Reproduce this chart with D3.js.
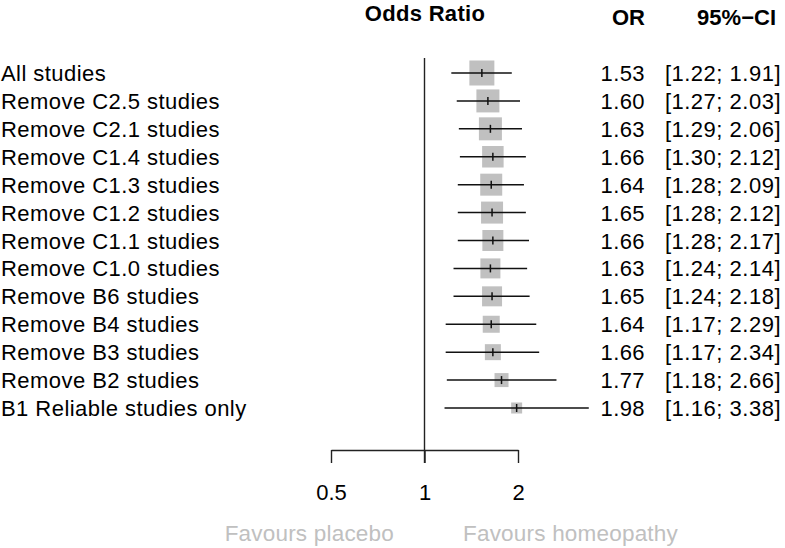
<!DOCTYPE html>
<html>
<head>
<meta charset="utf-8">
<script src="https://cdn.jsdelivr.net/npm/d3@7"></script>
<style>
  body { margin: 0; background: #fff; }
  text { font-family: "Liberation Sans", Arial, Helvetica, sans-serif; }
</style>
</head>
<body>
<div id="chart"></div>
<script>
var w = 785;
var h = 548;

// forest plot data
var studies = ["All studies", "Remove C2.5 studies", "Remove C2.1 studies", "Remove C1.4 studies",
               "Remove C1.3 studies", "Remove C1.2 studies", "Remove C1.1 studies", "Remove C1.0 studies",
               "Remove B6 studies", "Remove B4 studies", "Remove B3 studies", "Remove B2 studies",
               "B1 Reliable studies only"];
var or_vals = [1.53, 1.60, 1.63, 1.66, 1.64, 1.65, 1.66, 1.63, 1.65, 1.64, 1.66, 1.77, 1.98];
var ci_low  = [1.22, 1.27, 1.29, 1.30, 1.28, 1.28, 1.28, 1.24, 1.24, 1.17, 1.17, 1.18, 1.16];
var ci_high = [1.91, 2.03, 2.06, 2.12, 2.09, 2.12, 2.17, 2.14, 2.18, 2.29, 2.34, 2.66, 3.38];
var weights = [25, 23, 23, 21.5, 22, 22, 21, 20, 20, 17, 16, 14, 11];
var ticks = [0.5, 1, 2];

var svg = d3.select("#chart").append("svg")
            .attr("width", w)
            .attr("height", h);

var x = d3.scaleLog().domain([0.5, 2]).range([331, 518]);
var y = d3.scaleLinear().domain([0, studies.length - 1]).range([73, 408]);
var size = d3.scaleLinear().domain([0, 25]).range([0, 25]);

var rows = studies.map(function(s, i) {
  return {name: s, or: or_vals[i], lo: ci_low[i], hi: ci_high[i], wt: weights[i]};
});

// headers
svg.append("text").attr("x", 425).attr("y", 21).attr("text-anchor", "middle")
   .style("font-size", "22px").style("font-weight", "bold").style("letter-spacing", "0.3px")
   .text("Odds Ratio");
svg.append("text").attr("x", 645).attr("y", 25).attr("text-anchor", "end")
   .style("font-size", "22px").style("font-weight", "bold").text("OR");
svg.append("text").attr("x", 776).attr("y", 25).attr("text-anchor", "end")
   .style("font-size", "22px").style("font-weight", "bold").text("95%\u2212CI");

// reference line at 1
svg.append("line")
   .attr("x1", x(1)).attr("x2", x(1))
   .attr("y1", 58).attr("y2", 463)
   .attr("stroke", "#222").attr("stroke-width", 1.4);

var g = svg.selectAll("g.row")
           .data(rows)
           .enter()
           .append("g")
           .attr("class", "row")
           .attr("transform", function(d, i) { return "translate(0," + y(i) + ")"; });

g.append("rect")
 .attr("x", function(d) { return x(d.or) - size(d.wt) / 2; })
 .attr("y", function(d) { return -size(d.wt) / 2; })
 .attr("width", function(d) { return size(d.wt); })
 .attr("height", function(d) { return size(d.wt); })
 .style("fill", "#c0c0c0");

g.append("line")
 .attr("x1", function(d) { return x(d.lo); })
 .attr("x2", function(d) { return x(d.hi); })
 .attr("y1", 0).attr("y2", 0)
 .attr("stroke", "#111").attr("stroke-width", 1.5);

g.append("line")
 .attr("x1", function(d) { return x(d.or); })
 .attr("x2", function(d) { return x(d.or); })
 .attr("y1", -4).attr("y2", 4)
 .attr("stroke", "#111").attr("stroke-width", 1.5);

g.append("text")
 .attr("x", 1).attr("y", 8)
 .style("font-size", "22px").style("letter-spacing", "0.45px")
 .text(function(d) { return d.name; });

g.append("text")
 .attr("x", 645).attr("y", 8).attr("text-anchor", "end")
 .style("font-size", "22px").style("letter-spacing", "0.4px")
 .text(function(d) { return d.or.toFixed(2); });

g.append("text")
 .attr("x", 781).attr("y", 8).attr("text-anchor", "end")
 .style("font-size", "22px").style("letter-spacing", "0.5px")
 .text(function(d) { return "[" + d.lo.toFixed(2) + "; " + d.hi.toFixed(2) + "]"; });

// axis
var axis = d3.axisBottom(x)
             .tickValues(ticks)
             .tickFormat(function(d) { return d; })
             .tickSize(13)
             .tickSizeOuter(0)
             .tickPadding(21);

var ax = svg.append("g")
            .attr("transform", "translate(0,450)")
            .call(axis);
ax.select(".domain").attr("stroke", "#222").attr("stroke-width", 1.4);
ax.selectAll(".tick line").attr("stroke", "#222").attr("stroke-width", 1.4);
ax.selectAll(".tick text")
  .style("font-size", "22px")
  .style("font-family", "'Liberation Sans', Arial, sans-serif")
  .attr("fill", "#000");

// favours labels
svg.append("text").attr("x", 394).attr("y", 541).attr("text-anchor", "end")
   .style("font-size", "22.5px").style("letter-spacing", "0.2px").style("fill", "#c0c0c0")
   .text("Favours placebo");
svg.append("text").attr("x", 463).attr("y", 541)
   .style("font-size", "22.5px").style("letter-spacing", "0.2px").style("fill", "#c0c0c0")
   .text("Favours homeopathy");
</script>
</body>
</html>
